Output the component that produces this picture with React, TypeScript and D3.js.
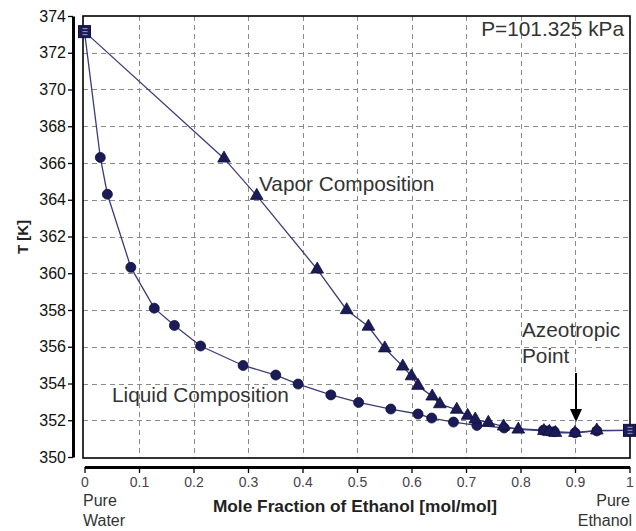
import { useEffect, useRef } from "react";
import * as d3 from "d3";

// liquid (bubble point) composition, x = mole fraction of ethanol
const liquidX = [0, 0.029, 0.042, 0.085, 0.128, 0.165, 0.213, 0.291, 0.351, 0.392, 0.452, 0.503, 0.562, 0.612, 0.637, 0.677, 0.72, 0.77, 0.842, 0.851, 0.862, 0.9, 0.94, 1.0];
const liquidT = [373.15, 366.3, 364.3, 360.32, 358.1, 357.16, 356.04, 354.98, 354.46, 353.97, 353.38, 352.97, 352.61, 352.34, 352.12, 351.9, 351.72, 351.58, 351.46, 351.42, 351.38, 351.32, 351.42, 351.45];

// vapor (dew point) composition
const vaporX = [0, 0.256, 0.316, 0.427, 0.481, 0.521, 0.551, 0.584, 0.6, 0.612, 0.638, 0.652, 0.683, 0.703, 0.717, 0.741, 0.769, 0.796, 0.843, 0.853, 0.864, 0.9, 0.94, 1.0];
const vaporT = [373.15, 366.25, 364.22, 360.21, 358.0, 357.1, 355.92, 354.93, 354.4, 353.88, 353.3, 352.88, 352.58, 352.25, 352.05, 351.87, 351.67, 351.5, 351.42, 351.38, 351.32, 351.32, 351.45, 351.45];

const xTicks = [0, 0.1, 0.2, 0.3, 0.4, 0.5, 0.6, 0.7, 0.8, 0.9, 1];
const xTickLabels = ["0", "0.1", "0.2", "0.3", "0.4", "0.5", "0.6", "0.7", "0.8", "0.9", "1"];
const yTicks = [350, 352, 354, 356, 358, 360, 362, 364, 366, 368, 370, 372, 374];

const azeotropeX = 0.9;

export default function App() {
    const svgRef = useRef<SVGSVGElement>(null);

    useEffect(() => {
        const svg = d3.select(svgRef.current);
        svg.selectAll("*").remove();

        const width = 636;
        const height = 531;
        const box = { left: 83, right: 630, top: 16, bottom: 458 };
        const navy = "#1b1b58";
        const lineColor = "#3b3b7c";
        const font = "'Liberation Sans', Arial, sans-serif";

        svg.attr("width", width).attr("height", height);
        svg.append("rect").attr("width", width).attr("height", height).attr("fill", "#fff");

        const x = d3.scaleLinear().domain([0, 1]).range([84.5, 629.5]);
        const y = d3.scaleLinear().domain([350, 374]).range([457, 16]);

        // grid
        const grid = svg.append("g").attr("stroke", "#8a8a8a").attr("stroke-dasharray", "5,4").attr("stroke-width", 1);
        grid.selectAll(".gx")
            .data(xTicks.slice(1, -1))
            .enter()
            .append("line")
            .attr("x1", (d) => Math.round(x(d)) + 0.5)
            .attr("x2", (d) => Math.round(x(d)) + 0.5)
            .attr("y1", box.top)
            .attr("y2", box.bottom);
        grid.selectAll(".gy")
            .data(yTicks.slice(1, -1))
            .enter()
            .append("line")
            .attr("x1", box.left)
            .attr("x2", box.right)
            .attr("y1", (d) => Math.round(y(d)) + 0.5)
            .attr("y2", (d) => Math.round(y(d)) + 0.5);

        // plot box
        svg.append("rect")
            .attr("x", box.left)
            .attr("y", box.top)
            .attr("width", box.right - box.left)
            .attr("height", box.bottom - box.top)
            .attr("fill", "none")
            .attr("stroke", "#000")
            .attr("stroke-width", 1.6);

        // y axis
        const yAxisG = svg.append("g").attr("transform", "translate(73,0)");
        yAxisG.call(
            d3.axisLeft(y).tickValues(d3.range(350, 374.01, 0.5)).tickSize(3).tickSizeOuter(0).tickFormat(() => "")
        );
        yAxisG.call(d3.axisLeft(y).tickValues(yTicks).tickSize(5).tickSizeOuter(0).tickPadding(2));
        yAxisG.selectAll(".domain").attr("stroke-width", 3);
        yAxisG.selectAll("line").attr("stroke-width", 1.3);
        yAxisG.selectAll("text")
            .attr("font-family", font)
            .attr("font-size", 16)
            .attr("fill", "#111");

        // x axis
        const xAxisG = svg.append("g").attr("transform", "translate(0,467)");
        xAxisG.call(
            d3.axisBottom(x).tickValues(d3.range(0, 1.0001, 0.02)).tickSize(3).tickSizeOuter(0).tickFormat(() => "")
        );
        xAxisG.call(
            d3.axisBottom(x).tickValues(xTicks).tickSize(6).tickSizeOuter(0).tickPadding(4)
                .tickFormat((d, i) => xTickLabels[i])
        );
        xAxisG.selectAll(".domain").attr("stroke-width", 3);
        xAxisG.selectAll("line").attr("stroke-width", 1.3);
        xAxisG.selectAll("text")
            .attr("font-family", font)
            .attr("font-size", 14)
            .attr("fill", "#4a4050");

        // axis titles
        svg.append("text")
            .attr("x", 355)
            .attr("y", 512)
            .attr("text-anchor", "middle")
            .attr("font-family", font)
            .attr("font-weight", "bold")
            .attr("font-size", 17.3)
            .attr("fill", "#222")
            .text("Mole Fraction of Ethanol [mol/mol]");

        svg.append("text")
            .attr("transform", "translate(28,237) rotate(-90)")
            .attr("text-anchor", "middle")
            .attr("font-family", font)
            .attr("font-weight", "bold")
            .attr("font-size", 15)
            .attr("fill", "#222")
            .text("T [K]");

        const smallLabels = [
            { t: "Pure", x: 83, y: 506, anchor: "start" },
            { t: "Water", x: 83, y: 526, anchor: "start" },
            { t: "Pure", x: 630, y: 506, anchor: "end" },
            { t: "Ethanol", x: 632, y: 526, anchor: "end" },
        ];
        svg.selectAll(".small")
            .data(smallLabels)
            .enter()
            .append("text")
            .attr("x", (d) => d.x)
            .attr("y", (d) => d.y)
            .attr("text-anchor", (d) => d.anchor)
            .attr("font-family", font)
            .attr("font-size", 16)
            .attr("fill", "#333")
            .text((d) => d.t);

        // series lines
        const liquidPts: [number, number][] = liquidX.map((v, i) => [x(v), y(liquidT[i])]);
        const vaporPts: [number, number][] = vaporX.map((v, i) => [x(v), y(vaporT[i])]);
        const pathGen = d3.line();

        svg.append("path")
            .attr("d", pathGen(liquidPts))
            .attr("fill", "none")
            .attr("stroke", lineColor)
            .attr("stroke-width", 1.3);
        svg.append("path")
            .attr("d", pathGen(vaporPts))
            .attr("fill", "none")
            .attr("stroke", lineColor)
            .attr("stroke-width", 1.3);

        // liquid markers (circles), skip the pure-component end points
        svg.selectAll(".liq")
            .data(liquidPts.slice(1, -1))
            .enter()
            .append("circle")
            .attr("cx", (d) => d[0])
            .attr("cy", (d) => d[1])
            .attr("r", 5)
            .attr("fill", navy)
            .attr("stroke", "#10103a")
            .attr("stroke-width", 0.8);

        // vapor markers (triangles)
        const tri = d3.symbol().type(d3.symbolTriangle).size(70);
        svg.selectAll(".vap")
            .data(vaporPts.slice(1, -1))
            .enter()
            .append("path")
            .attr("d", tri)
            .attr("transform", (d) => `translate(${d[0]},${d[1]})`)
            .attr("fill", navy)
            .attr("stroke", "#10103a")
            .attr("stroke-width", 0.8);

        // pure-component end points (squares)
        const ends: [number, number][] = [liquidPts[0], liquidPts[liquidPts.length - 1]];
        const endG = svg.selectAll(".end")
            .data(ends)
            .enter()
            .append("g")
            .attr("transform", (d) => `translate(${d[0]},${d[1]})`);
        endG.append("rect")
            .attr("x", -6)
            .attr("y", -6)
            .attr("width", 12)
            .attr("height", 12)
            .attr("fill", navy)
            .attr("stroke", "#10103a")
            .attr("stroke-width", 1);
        endG.append("path")
            .attr("d", "M-2,-3 L3,-3 M-2,0 L3,0 M-2,3 L3,3")
            .attr("stroke", "#9a9ac8")
            .attr("stroke-width", 1);

        // annotations
        const notes = [
            { t: "P=101.325 kPa", x: 624, y: 36, anchor: "end" },
            { t: "Vapor Composition", x: 259, y: 191, anchor: "start" },
            { t: "Liquid Composition", x: 112, y: 402, anchor: "start" },
            { t: "Azeotropic", x: 522, y: 337, anchor: "start" },
            { t: "Point", x: 522, y: 363, anchor: "start" },
        ];
        svg.selectAll(".note")
            .data(notes)
            .enter()
            .append("text")
            .attr("x", (d) => d.x)
            .attr("y", (d) => d.y)
            .attr("text-anchor", (d) => d.anchor)
            .attr("font-family", font)
            .attr("font-size", 20.8)
            .attr("fill", "#333")
            .text((d) => d.t);

        // arrow to the azeotrope
        const ax = x(azeotropeX) + 1;
        svg.append("line")
            .attr("x1", ax)
            .attr("x2", ax)
            .attr("y1", 373)
            .attr("y2", 411)
            .attr("stroke", "#000")
            .attr("stroke-width", 2);
        svg.append("path")
            .attr("d", `M${ax - 6},409 L${ax + 6},409 L${ax},422 Z`)
            .attr("fill", "#000");
    }, []);

    return (
        <div style={{ position: "absolute", left: 0, top: 0 }}>
            <svg ref={svgRef} style={{ display: "block" }} />
        </div>
    );
}
